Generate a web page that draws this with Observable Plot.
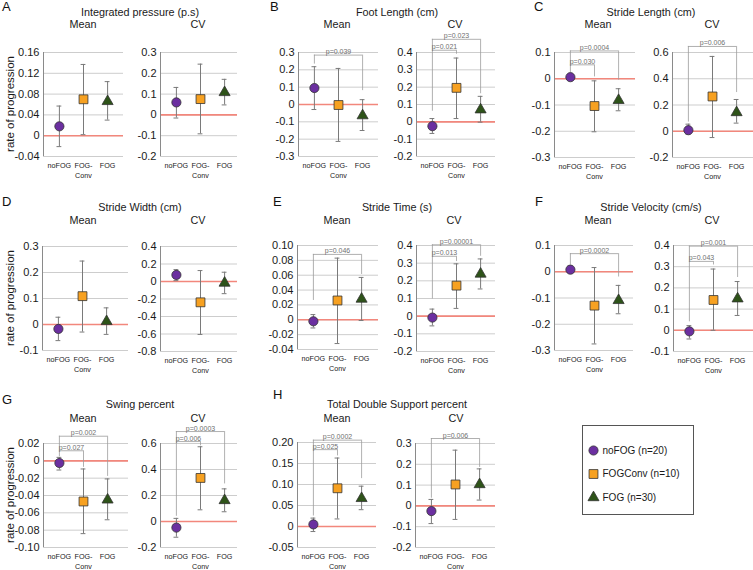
<!DOCTYPE html>
<html><head><meta charset="utf-8">
<script src="https://cdn.jsdelivr.net/npm/d3@7"></script>
<script src="https://cdn.jsdelivr.net/npm/@observablehq/plot@0.6"></script>
<style>
body{margin:0;background:#fff;font-family:"Liberation Sans",Arial,sans-serif;}
#root{position:relative;width:753px;height:570px;overflow:hidden;background:#fff;}
.lbl{position:absolute;white-space:nowrap;color:#1a1a1a;line-height:14px;transform:translateX(-50%);}
.let{position:absolute;white-space:nowrap;color:#111;font-size:13px;line-height:14px;}
</style></head>
<body><div id="root"></div>
<script>
// ---------- data ----------
const groups = ["noFOG", "FOG-Conv", "FOG"];
const groupTickLabels = ["noFOG", "FOG-\nConv", "FOG"];
const legendLabels = ["noFOG (n=20)", "FOGConv (n=10)", "FOG (n=30)"];
const panelLetters = ["A", "B", "C", "D", "E", "F", "G", "H"];
const panelTitles = ["Integrated pressure (p.s)", "Foot Length (cm)", "Stride Length (cm)", "Stride Width (cm)",
  "Stride Time (s)", "Stride Velocity (cm/s)", "Swing percent", "Total Double Support percent"];
const subTitles = ["Mean", "CV"];
const yTitle = "rate of progression";

// each row: [value, lower error, upper error] for noFOG, FOG-Conv, FOG
const A_mean = [[0.018, -0.021, 0.057], [0.070, 0.002, 0.137], [0.066, 0.030, 0.104]];
const A_cv   = [[0.060, -0.015, 0.132], [0.076, -0.091, 0.244], [0.108, 0.048, 0.171]];
const B_mean = [[0.095, -0.029, 0.218], [-0.003, -0.213, 0.208], [-0.064, -0.150, 0.028]];
const B_cv   = [[-0.025, -0.067, 0.019], [0.196, 0.019, 0.368], [0.070, -0.002, 0.147]];
const C_mean = [[0.006, 0.000, 0.012], [-0.104, -0.202, -0.008], [-0.082, -0.122, -0.038]];
const C_cv   = [[0.008, -0.022, 0.054], [0.265, -0.048, 0.570], [0.143, 0.062, 0.242]];
const D_mean = [[-0.017, -0.062, 0.028], [0.109, -0.029, 0.244], [0.012, -0.038, 0.064]];
const D_cv   = [[0.075, 0.010, 0.136], [-0.238, -0.605, 0.125], [-0.017, -0.139, 0.106]];
const E_mean = [[-0.002, -0.011, 0.007], [0.026, -0.032, 0.083], [0.028, -0.001, 0.057]];
const E_cv   = [[-0.008, -0.055, 0.040], [0.173, 0.044, 0.296], [0.239, 0.154, 0.324]];
const F_mean = [[0.008, -0.003, 0.022], [-0.129, -0.275, 0.016], [-0.109, -0.160, -0.052]];
const F_cv   = [[-0.005, -0.041, 0.022], [0.143, 0.000, 0.289], [0.149, 0.070, 0.230]];
const G_mean = [[-0.0025, -0.0106, 0.004], [-0.0469, -0.084, -0.0094], [-0.045, -0.068, -0.0209]];
const G_cv   = [[-0.047, -0.121, 0.024], [0.335, 0.090, 0.575], [0.162, 0.075, 0.251]];
const H_mean = [[0.005, -0.012, 0.020], [0.091, 0.018, 0.163], [0.067, 0.040, 0.096]];
const H_cv   = [[-0.025, -0.085, 0.031], [0.103, -0.065, 0.268], [0.103, 0.028, 0.178]];

// tick labels
const A_mean_ticks = ["-0.04", "0", "0.04", "0.08", "0.12", "0.16"];
const A_cv_ticks   = ["-0.2", "-0.1", "0", "0.1", "0.2", "0.3"];
const B_mean_ticks = ["-0.3", "-0.2", "-0.1", "0", "0.1", "0.2", "0.3"];
const B_cv_ticks   = ["-0.2", "-0.1", "0", "0.1", "0.2", "0.3", "0.4"];
const C_mean_ticks = ["-0.3", "-0.2", "-0.1", "0", "0.1"];
const C_cv_ticks   = ["-0.2", "0", "0.2", "0.4", "0.6"];
const D_mean_ticks = ["-0.1", "0", "0.1", "0.2", "0.3"];
const D_cv_ticks   = ["-0.8", "-0.6", "-0.4", "-0.2", "0", "0.2", "0.4"];
const E_mean_ticks = ["-0.04", "-0.02", "0", "0.02", "0.04", "0.06", "0.08", "0.10"];
const E_cv_ticks   = ["-0.2", "-0.1", "0", "0.1", "0.2", "0.3", "0.4"];
const F_mean_ticks = ["-0.3", "-0.2", "-0.1", "0", "0.1"];
const F_cv_ticks   = ["-0.1", "0", "0.1", "0.2", "0.3", "0.4"];
const G_mean_ticks = ["-0.10", "-0.08", "-0.06", "-0.04", "-0.02", "0", "0.02"];
const G_cv_ticks   = ["-0.2", "0", "0.2", "0.4", "0.6"];
const H_mean_ticks = ["-0.05", "0", "0.05", "0.10", "0.15", "0.20"];
const H_cv_ticks   = ["-0.2", "-0.1", "0", "0.1", "0.2", "0.3"];

// significance brackets: [from group, to group, bar value, left leg end, right leg end, label]
const A_mean_p = [];
const A_cv_p = [];
const B_mean_p = [[0, 2, 0.285, 0.233, 0.080, "p=0.039"]];
const B_cv_p = [[0, 1, 0.413, 0.061, 0.390, "p=0.021"], [0, 2, 0.476, 0.413, 0.162, "p=0.023"]];
const C_mean_p = [[0, 1, 0.053, 0.022, 0.007, "p=0.030"], [0, 2, 0.106, 0.053, -0.005, "p=0.0004"]];
const C_cv_p = [[0, 2, 0.646, 0.070, 0.295, "p=0.006"]];
const D_mean_p = [];
const D_cv_p = [];
const E_mean_p = [[0, 2, 0.088, 0.026, 0.061, "p=0.046"]];
const E_cv_p = [[0, 1, 0.339, 0.097, 0.309, "p=0.013"], [0, 2, 0.404, 0.339, 0.339, "p=0.00001"]];
const F_mean_p = [[0, 2, 0.069, 0.025, -0.020, "p=0.0002"]];
const F_cv_p = [[0, 1, 0.325, 0.040, 0.308, "p=0.043"], [0, 2, 0.397, 0.325, 0.249, "p=0.001"]];
const G_mean_p = [[0, 1, 0.0116, 0.005, -0.0075, "p=0.027"], [0, 2, 0.0284, 0.0116, -0.018, "p=0.002"]];
const G_cv_p = [[0, 1, 0.615, 0.040, 0.582, "p=0.006"], [0, 2, 0.692, 0.615, 0.289, "p=0.0003"]];
const H_mean_p = [[0, 1, 0.183, 0.025, 0.168, "p=0.025"], [0, 2, 0.2056, 0.183, 0.114, "p=0.0002"]];
const H_cv_p = [[0, 2, 0.324, 0.037, 0.185, "p=0.006"]];

// ---------- styling & layout ----------
const FONT = "Liberation Sans, Arial, sans-serif";
const groupFill = ["#6b2fa0", "#f7a121", "#2e5319"];
const groupSymbol = ["circle", "square", "triangle"];
const groupR = [4.6, 5.0, 4.1];
const root = document.getElementById("root");

// [axis x, right x, top y, bottom y]
const subplots = [
  ["A", 0, A_mean, A_mean_ticks, A_mean_p, [43, 123, 52, 156]],
  ["A", 1, A_cv, A_cv_ticks, A_cv_p, [160, 237, 52, 156]],
  ["B", 0, B_mean, B_mean_ticks, B_mean_p, [298, 378, 52, 156]],
  ["B", 1, B_cv, B_cv_ticks, B_cv_p, [416, 495, 52, 156]],
  ["C", 0, C_mean, C_mean_ticks, C_mean_p, [554, 635, 52, 157]],
  ["C", 1, C_cv, C_cv_ticks, C_cv_p, [672, 753, 52, 157]],
  ["D", 0, D_mean, D_mean_ticks, D_mean_p, [42, 128, 246, 350]],
  ["D", 1, D_cv, D_cv_ticks, D_cv_p, [160, 237, 246, 351]],
  ["E", 0, E_mean, E_mean_ticks, E_mean_p, [297, 378, 245, 349]],
  ["E", 1, E_cv, E_cv_ticks, E_cv_p, [416, 495, 245, 351]],
  ["F", 0, F_mean, F_mean_ticks, F_mean_p, [554, 633, 245, 350]],
  ["F", 1, F_cv, F_cv_ticks, F_cv_p, [673, 753, 245, 351]],
  ["G", 0, G_mean, G_mean_ticks, G_mean_p, [43, 128, 443, 547]],
  ["G", 1, G_cv, G_cv_ticks, G_cv_p, [160, 237, 443, 547]],
  ["H", 0, H_mean, H_mean_ticks, H_mean_p, [297, 376, 442, 547]],
  ["H", 1, H_cv, H_cv_ticks, H_cv_p, [415, 495, 443, 547]]
];

function drawSubplot(data, ticks, brackets, L) {
  const [ax, rx, ty, by] = L;
  const mL = 44, mR = 1, mT = 44, mB = 30;
  const tv = ticks.map(Number);
  const y0 = d3.min(tv), y1 = d3.max(tv);
  const rows = data.map((d, i) => ({i, v: d[0], lo: d[1], hi: d[2]}));
  const legs = brackets.flatMap(b => [{x: b[0], a: b[3], b: b[2]}, {x: b[1], a: b[4], b: b[2]}]);
  const grey = "#9c9c9c", err = "#7a7a7a";
  const marks = [
    Plot.ruleY(tv, {stroke: "#cdcdcd", strokeWidth: 1}),
    Plot.ruleY([0], {stroke: "#f2877c", strokeWidth: 1.6}),
    Plot.ruleX([-0.66], {y1: y0, y2: y1, stroke: "#8a8a8a", strokeWidth: 1}),
    Plot.text(ticks, {x: -0.66, y: d => +d, text: d => d, textAnchor: "end", dx: -4, fontSize: 11, fill: "#1a1a1a"}),
    Plot.text(groupTickLabels, {x: (d, i) => i, y: y0, text: d => d, dy: 5, lineAnchor: "top", lineHeight: 1.3, fontSize: 7.2, fill: "#1a1a1a"}),
    Plot.ruleY(brackets, {x1: b => b[0], x2: b => b[1], y: b => b[2], stroke: grey, strokeWidth: 0.8}),
    Plot.ruleX(legs, {x: "x", y1: "a", y2: "b", stroke: grey, strokeWidth: 0.8}),
    Plot.text(brackets, {x: b => (b[0] + b[1]) / 2, y: b => b[2], text: b => b[5], lineAnchor: "bottom", dy: -1, fontSize: 7, fill: "#707070"}),
    Plot.ruleX(rows, {x: "i", y1: "lo", y2: "hi", stroke: err, strokeWidth: 1}),
    Plot.ruleY(rows, {x1: d => d.i - 0.1, x2: d => d.i + 0.1, y: "lo", stroke: err, strokeWidth: 1}),
    Plot.ruleY(rows, {x1: d => d.i - 0.1, x2: d => d.i + 0.1, y: "hi", stroke: err, strokeWidth: 1})
  ];
  groups.forEach((g, k) => {
    marks.push(Plot.dot(rows.filter(d => d.i === k), {x: "i", y: "v", symbol: groupSymbol[k], r: groupR[k],
      fill: groupFill[k], stroke: "#333", strokeWidth: 0.8}));
  });
  const svg = Plot.plot({
    width: (rx - ax) + mL + mR, height: (by - ty) + mT + mB,
    marginLeft: mL, marginRight: mR, marginTop: mT, marginBottom: mB,
    style: {background: "transparent", overflow: "visible", fontFamily: FONT},
    x: {domain: [-0.66, 2.66], range: [mL, mL + 80], axis: null},
    y: {domain: [y0, y1], axis: null},
    marks
  });
  svg.style.position = "absolute";
  svg.style.left = (ax - mL) + "px";
  svg.style.top = (ty - mT) + "px";
  svg.style.maxWidth = "none";
  root.appendChild(svg);
}
subplots.forEach(s => drawSubplot(s[2], s[3], s[4], s[5]));

// titles: [title center x, title y, mean x, cv x, sub y, letter x, letter y]
const titlePos = [
  [140, 12, 83, 198, 24, 2, 0],
  [397, 12, 337, 455, 24, 270, 0],
  [651, 12, 598, 712, 24, 534, 0],
  [140, 207, 83, 198, 220, 2, 195],
  [397, 207, 337, 454, 220, 273, 195],
  [651, 207, 598, 712, 220, 535, 195],
  [140, 404, 83, 198, 418, 2, 393],
  [397, 404, 337, 456, 418, 273, 388]
];
function addDiv(cls, text, x, y, size) {
  const d = document.createElement("div");
  d.className = cls; d.textContent = text;
  d.style.left = x + "px"; d.style.top = (y - 7) + "px";
  if (size) d.style.fontSize = size + "px";
  root.appendChild(d);
}
panelTitles.forEach((t, i) => {
  const p = titlePos[i];
  addDiv("lbl", t, p[0], p[1], 10.8);
  addDiv("lbl", subTitles[0], p[2], p[4], 10.8);
  addDiv("lbl", subTitles[1], p[3], p[4], 10.8);
  const l = document.createElement("div");
  l.className = "let"; l.textContent = panelLetters[i];
  l.style.left = p[5] + "px"; l.style.top = p[6] + "px";
  root.appendChild(l);
});
[104, 298, 495].forEach(cy => {
  const d = document.createElement("div");
  d.textContent = yTitle;
  d.style.cssText = `position:absolute;left:10px;top:${cy}px;font-size:11.5px;white-space:nowrap;color:#1a1a1a;transform:translate(-50%,-50%) rotate(-90deg);`;
  root.appendChild(d);
});

// legend
const leg = Plot.plot({
  width: 113, height: 91, margin: 1,
  style: {background: "transparent", fontFamily: FONT},
  x: {domain: [0, 111], range: [1, 112], axis: null},
  y: {domain: [0, 2], range: [26, 73], axis: null},
  marks: [
    Plot.frame({stroke: "#555", strokeWidth: 1}),
    ...groups.map((g, k) => Plot.dot([k], {x: 11, y: d => d, symbol: groupSymbol[k], r: groupR[k],
      fill: groupFill[k], stroke: "#333", strokeWidth: 0.8})),
    Plot.text(legendLabels, {x: 20, y: (d, i) => i, text: d => d, textAnchor: "start", fontSize: 10, fill: "#1a1a1a"})
  ]
});
leg.style.position = "absolute"; leg.style.left = "581px"; leg.style.top = "424px";
root.appendChild(leg);
</script>
</body></html>
